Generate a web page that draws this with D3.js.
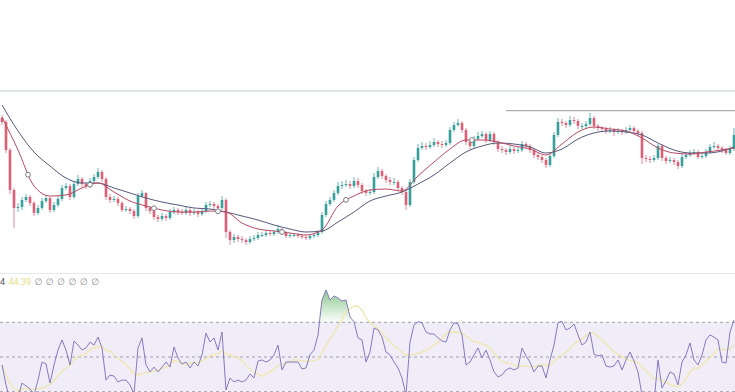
<!DOCTYPE html>
<html><head><meta charset="utf-8">
<script src="https://cdn.jsdelivr.net/npm/d3@7"></script>
<style>html,body{margin:0;padding:0;background:#fff;overflow:hidden}svg{display:block}</style>
</head><body>
<svg id="c" width="735" height="392"></svg>
<script>
// ---- price data (arbitrary price units) ----
const firstOpen = 182;
const closes = [178,150,110,92,93,100,103,97,87,92,
 99,102,90,95,101,112,114,103,116,121,
 116,114,119,123,128,121,103,100,101,97,
 90,91,89,84,104,107,92,89,83,81,
 84,82,88,90,88,87,90,87,88,86,
 89,95,96,94,92,100,68,60,63,61,
 60,58,61,62,65,65,67,66,68,71,
 67,64,65,65,64,63,62,64,65,68,
 85,96,100,107,114,115,116,114,119,115,
 109,107,108,123,129,124,120,118,118,112,
 108,95,118,140,152,154,153,155,158,156,
 155,157,170,175,177,170,158,154,161,164,
 166,160,166,158,151,150,148,151,149,150,
 156,154,150,145,143,140,135,144,165,178,
 177,175,180,179,174,174,176,182,174,172,
 171,169,170,168,169,168,170,172,169,167,
 142,141,140,142,154,142,139,140,138,134,
 143,145,147,148,143,144,148,153,154,152,
 150,147,151,165];
const highs = [185,180,152,112,97,103,106,105,99,95,
 102,105,103,98,104,115,117,116,119,125,
 123,118,122,126,132,130,123,106,104,103,
 99,94,93,91,107,110,108,94,91,85,
 87,86,91,93,92,91,93,92,91,90,
 92,98,99,98,96,104,102,70,66,65,
 64,62,64,65,68,68,69,69,70,75,
 72,69,67,67,67,66,65,66,67,70,
 88,99,103,110,118,119,120,119,123,122,
 117,111,111,127,133,131,126,123,122,120,
 114,110,121,143,156,158,157,159,162,160,
 159,160,173,178,181,179,172,160,164,168,
 169,168,169,168,160,154,152,155,153,153,
 159,158,156,152,147,145,142,147,168,182,
 181,179,184,183,181,177,179,187,184,176,
 174,173,173,172,172,171,173,175,174,171,
 169,145,144,145,156,156,144,143,142,140,
 146,148,150,151,150,147,151,156,158,156,
 154,152,154,172];
const lows = [175,147,106,72,88,90,98,94,84,85,
 90,97,87,88,93,99,110,100,101,114,
 113,111,112,117,121,118,100,97,98,94,
 88,88,86,81,82,102,89,86,80,78,
 79,79,80,86,85,85,85,84,85,83,
 84,87,93,91,90,90,62,55,57,58,
 57,55,56,59,60,63,63,64,64,66,
 65,62,62,63,62,61,60,60,62,63,
 66,83,94,98,105,111,113,111,112,112,
 106,104,105,106,121,121,117,115,115,109,
 105,90,93,116,138,150,150,151,153,153,
 152,153,155,168,173,167,155,151,152,159,
 162,157,158,155,148,147,145,146,146,147,
 148,151,147,142,140,137,132,133,142,163,
 174,172,173,176,171,171,172,174,171,169,
 168,166,167,164,166,165,166,168,167,164,
 136,138,137,138,140,139,136,137,135,131,
 132,141,143,145,141,141,142,146,151,149,
 147,145,145,149];

const maIndex = [0,4,8,12,16,20,24,28,32,36,40,44,48,52,56,60,64,68,72,76,80,84,88,92,96,100,104,108,112,116,120,124,128,132,136,140,144,148,152,156,160,164,168,172,176,180,183];
const maFast = [183,150,114,104,105,112,117,108,99,94,90,88,88,89,88,77,71,69,67,65,70,94,104,110,111,109,124,138,151,160,160,158,154,151,145,156,168,173,171,169,162,152,147,146,148,150,152];
const maSlow = [195,169,148,134,122,117,117,112,107,102,98,95,92,91,88,84,80,75,71,68,69,78,88,99,104,108,116,125,137,148,154,157,156,153,147,151,161,167,169,168,165,157,150,147,147,149,153];
const markerIndex = [6.5,22,38,54,70,86,117.5];

// horizontal level
const levelPrice = 189.3;
const levelStart = 126;

// ---- RSI ----
const rsi = [45.4,33.9,25.2,22.3,26.4,35.0,33.3,31.6,28.1,36.7,
 47.1,46.0,35.0,45.4,54.0,59.8,54.0,45.4,59.2,56.9,
 54.0,55.2,58.6,56.9,61.5,55.2,36.7,39.6,39.0,35.6,
 36.7,36.7,33.9,28.7,55.2,61.0,45.4,41.4,44.2,41.4,
 44.2,47.1,44.2,55.8,49.4,46.0,47.1,43.7,47.1,44.8,
 51.2,63.8,58.6,61.0,54.0,64.4,31.0,37.9,35.6,36.7,
 35.6,36.7,40.2,37.9,47.7,48.3,47.1,48.3,51.2,56.9,
 42.5,47.1,47.1,47.1,47.1,43.1,43.7,51.2,54.0,62.7,
 82.9,88.6,82.9,85.2,84.0,82.3,82.9,73.1,70.2,61.0,
 59.8,47.1,52.9,66.7,65.6,61.5,52.9,51.2,47.1,43.7,
 37.9,28.1,58.6,68.4,70.4,69.6,64.4,63.3,63.3,61.0,
 59.2,58.6,65.6,69.8,69.0,62.7,45.4,47.1,51.2,55.2,
 49.4,54.0,48.3,41.4,38.5,39.6,42.5,43.7,42.5,43.7,
 55.2,50.6,47.1,41.4,44.8,44.8,37.9,48.3,56.9,69.8,
 70.5,65.6,66.7,69.0,62.7,56.9,58.6,64.4,51.7,50.6,
 51.2,44.8,44.2,44.8,48.3,42.5,48.3,52.9,47.7,41.4,
 28.1,22.3,20.6,24.1,48.3,32.1,36.2,41.4,40.2,33.9,
 47.1,51.2,58.1,48.3,45.4,51.2,59.8,62.7,61.5,59.8,
 47.1,46.5,64.4,71.3];
const rsiLevels = [70,50,30];
const rsiMaLength = 10;
const legendParts = [
  {t:"4", c:"#50535e"},
  {t:"44.39", c:"#e9dc8a"},
  {t:"\u2205", c:"#8a8d96"},{t:"\u2205", c:"#8a8d96"},{t:"\u2205", c:"#8a8d96"},
  {t:"\u2205", c:"#8a8d96"},{t:"\u2205", c:"#8a8d96"},{t:"\u2205", c:"#8a8d96"}
];

// ---- drawing ----
const W = 735, H = 392;
const svg = d3.select("#c");
const x = d3.scaleLinear().domain([0, closes.length - 1]).range([2, 734]);
const y = d3.scaleLinear().domain([27, 208]).range([273, 92]);
const yR = d3.scaleLinear().domain([30, 70]).range([391.7, 322.3]);
const opens = closes.map((c, i) => i === 0 ? firstOpen : closes[i - 1]);

const defs = svg.append("defs");
defs.append("clipPath").attr("id", "cpMain").append("rect").attr("x", 0).attr("y", 92).attr("width", W).attr("height", 181);
defs.append("clipPath").attr("id", "cpRsi").append("rect").attr("x", 0).attr("y", 274).attr("width", W).attr("height", H - 274);
const grad = defs.append("linearGradient").attr("id", "gOB").attr("gradientUnits", "userSpaceOnUse")
  .attr("x1", 0).attr("x2", 0).attr("y1", yR(100)).attr("y2", yR(70));
grad.append("stop").attr("offset", "0%").attr("stop-color", "#3f9e4c").attr("stop-opacity", 1);
grad.append("stop").attr("offset", "100%").attr("stop-color", "#4caf50").attr("stop-opacity", 0.02);

svg.append("rect").attr("width", W).attr("height", H).attr("fill", "#ffffff");

// separators
svg.append("line").attr("x1", 0).attr("x2", W).attr("y1", 91).attr("y2", 91).attr("stroke", "#d6dce5").attr("stroke-width", 1.5);
svg.append("line").attr("x1", 0).attr("x2", W).attr("y1", 273.5).attr("y2", 273.5).attr("stroke", "#e7e7ee").attr("stroke-width", 1);

// main pane
const gm = svg.append("g").attr("clip-path", "url(#cpMain)");
gm.append("line").attr("x1", x(levelStart)).attr("x2", W)
  .attr("y1", y(levelPrice)).attr("y2", y(levelPrice)).attr("stroke", "#949aa2").attr("stroke-width", 1);

const upC = "#35a09c", dnC = "#e05f74";
const idx = d3.range(closes.length);
const bw = 2.6;
gm.selectAll("line.wick").data(idx).join("line").attr("class", "wick")
  .attr("x1", i => x(i)).attr("x2", i => x(i))
  .attr("y1", i => y(highs[i])).attr("y2", i => y(lows[i]))
  .attr("stroke", i => closes[i] >= opens[i] ? upC : dnC).attr("stroke-width", 1).attr("opacity", 0.75);
gm.selectAll("rect.body").data(idx).join("rect").attr("class", "body")
  .attr("x", i => x(i) - bw / 2).attr("width", bw)
  .attr("y", i => y(Math.max(opens[i], closes[i])))
  .attr("height", i => Math.max(1, Math.abs(y(opens[i]) - y(closes[i]))))
  .attr("fill", i => closes[i] >= opens[i] ? upC : dnC);

const maLine = d3.line().x(d => x(d[0])).y(d => y(d[1])).curve(d3.curveMonotoneX);
gm.append("path").datum(maIndex.map((k, j) => [k, maSlow[j]])).attr("d", maLine)
  .attr("fill", "none").attr("stroke", "#555a80").attr("stroke-width", 1);
const fastPath = gm.append("path").datum(maIndex.map((k, j) => [k, maFast[j]])).attr("d", maLine)
  .attr("fill", "none").attr("stroke", "#b84c63").attr("stroke-width", 1);

// markers on the fast MA
const pn = fastPath.node(), L = pn.getTotalLength();
function pointAtX(px) {
  let lo = 0, hi = L;
  for (let k = 0; k < 30; k++) {
    const mid = (lo + hi) / 2;
    if (pn.getPointAtLength(mid).x < px) lo = mid; else hi = mid;
  }
  return pn.getPointAtLength((lo + hi) / 2);
}
gm.selectAll("circle.mk").data(markerIndex).join("circle").attr("class", "mk")
  .attr("cx", d => x(d)).attr("cy", d => pointAtX(x(d)).y).attr("r", 2.4)
  .attr("fill", "#ffffff").attr("stroke", "#7a7d86").attr("stroke-width", 1);

// RSI pane
const gr = svg.append("g").attr("clip-path", "url(#cpRsi)");
gr.append("rect").attr("x", 0).attr("width", W).attr("y", yR(70)).attr("height", yR(30) - yR(70))
  .attr("fill", "rgba(126,87,194,0.11)");
gr.selectAll("line.lvl").data(rsiLevels).join("line").attr("class", "lvl")
  .attr("x1", 0).attr("x2", W).attr("y1", d => yR(d)).attr("y2", d => yR(d))
  .attr("stroke", "#a09fab").attr("stroke-width", 1).attr("stroke-dasharray", "3,3");

const obArea = d3.area().x((d, i) => x(i)).y0(yR(70)).y1(d => yR(Math.max(70, d)));
gr.append("path").datum(rsi).attr("d", obArea).attr("fill", "url(#gOB)");

const rsiMa = rsi.map((v, i) => d3.mean(rsi.slice(Math.max(0, i - rsiMaLength + 1), i + 1)));
const rl = d3.line().x((d, i) => x(i)).y(d => yR(d));
gr.append("path").datum(rsiMa).attr("d", rl).attr("fill", "none").attr("stroke", "#f0e6a4").attr("stroke-width", 1.2);
gr.append("path").datum(rsi).attr("d", rl).attr("fill", "none").attr("stroke", "#8679be").attr("stroke-width", 1);

// legend
const lg = svg.append("text").attr("x", 0).attr("y", 285).attr("font-family", "Roboto, 'DejaVu Sans', sans-serif").attr("font-size", 9);
legendParts.forEach((p, i) => {
  lg.append("tspan").attr("dx", i === 0 ? 0 : 3.5).attr("fill", p.c).text(p.t);
});
</script>
</body></html>
